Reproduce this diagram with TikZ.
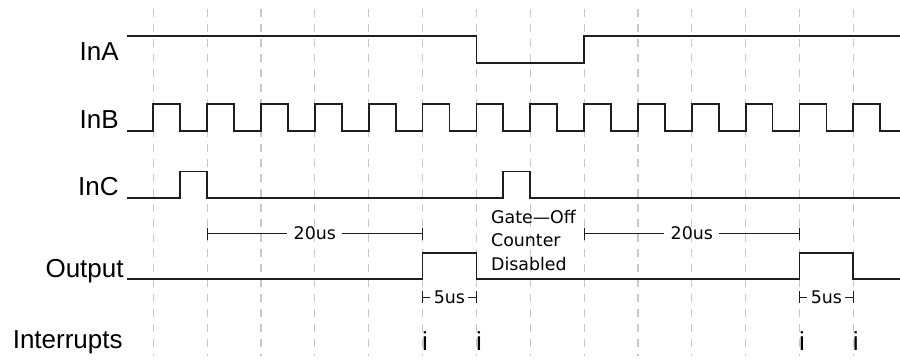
\documentclass[tikz,border=0pt]{standalone}
\usepackage{fontspec}
\setmainfont{Liberation Sans}
\newfontfamily\notefont{DejaVu Sans}
\usetikzlibrary{calc}
\usepackage{xcolor}
\definecolor{sig_black}{RGB}{30,30,30}
\definecolor{grid_gray}{RGB}{200,200,200}
\tikzset{
  signal/.style   = {sig_black, line width=0.9pt, line join=miter},
  gridline/.style = {grid_gray, line width=0.55pt, dash pattern=on 3.75pt off 3.75pt},
  dimline/.style  = {sig_black, line width=0.5pt},
  lbl/.style      = {font=\fontsize{13}{15}\selectfont, inner sep=0pt, anchor=base east},
  note/.style     = {font=\notefont\fontsize{8.7}{11.65}\selectfont, inner ysep=1pt, inner xsep=3pt},
  irq/.style      = {font=\fontsize{13}{15}\selectfont, inner sep=0pt, anchor=base}
}

\begin{document}
\begin{tikzpicture}[x=0.5pt, y=-0.5pt]
    \useasboundingbox (0,0) rectangle (900,360);

    % Time base
    \def\xO{153.3}    % first grid line
    \def\T{53.85}     % clock period
    \def\H{26.925}    % half period

    % ----- Grid -----
    \foreach \i in {0,...,13}{
      \draw[gridline] ({\xO+\i*\T},9) -- ({\xO+\i*\T},356);
    }

    % ----- Signal names -----
    \node[lbl] (nInA) at (119,60)  {InA};
    \node[lbl] (nInB) at (119,128) {InB};
    \node[lbl] (nInC) at (119,195) {InC};
    \node[lbl] (nOut) at (124,277) {Output};
    \node[lbl] (nIrq) at (123,348) {Interrupts};

    % ----- InA -----
    \draw[signal] (127,36) -- (476.4,36) -- (476.4,63) -- (584.1,63)
      -- (584.1,36) -- (900,36);

    % ----- InB (clock) -----
    \draw[signal] (127,130.7) foreach \i in {0,...,13}{
        -- ({\xO+\i*\T},130.7) -- ({\xO+\i*\T},104)
        -- ({\xO+\i*\T+\H},104) -- ({\xO+\i*\T+\H},130.7)
      } -- (900,130.7);

    % ----- InC -----
    \draw[signal] (127,198) -- (180.2,198) -- (180.2,171.5) -- (207.15,171.5)
      -- (207.15,198) -- (503.3,198) -- (503.3,171.5) -- (530.25,171.5)
      -- (530.25,198) -- (900,198);

    % ----- Output -----
    \draw[signal] (127,279.3) -- (422.55,279.3) -- (422.55,252.7) -- (476.4,252.7)
      -- (476.4,279.3) -- (799.5,279.3) -- (799.5,252.7) -- (853.35,252.7)
      -- (853.35,279.3) -- (900,279.3);

    % ----- Delays -----
    \coordinate (dA1) at (207.15,233.5);
    \coordinate (dA2) at (422.55,233.5);
    \coordinate (dB1) at (584.1,233.5);
    \coordinate (dB2) at (799.5,233.5);
    \coordinate (pA1) at (422.55,297);
    \coordinate (pA2) at (476.4,297);
    \coordinate (pB1) at (799.5,297);
    \coordinate (pB2) at (853.35,297);

    \node[note] (tA) at ($(dA1)!0.5!(dA2)$) {20us};
    \node[note] (tB) at ($(dB1)!0.5!(dB2)$) {20us};
    \node[note, inner xsep=1.5pt] (wA) at ($(pA1)!0.5!(pA2)$) {5us};
    \node[note, inner xsep=1.5pt] (wB) at ($(pB1)!0.5!(pB2)$) {5us};

    \draw[dimline] (dA1) -- (tA) (tA) -- (dA2);
    \draw[dimline] (dB1) -- (tB) (tB) -- (dB2);
    \draw[dimline] (pA1) -- (wA) (wA) -- (pA2);
    \draw[dimline] (pB1) -- (wB) (wB) -- (pB2);

    \foreach \c in {dA1,dA2,dB1,dB2,pA1,pA2,pB1,pB2}{
      \draw[dimline] ($(\c)+(0,-6)$) -- ($(\c)+(0,6)$);
    }

    % ----- Gate-off note -----
    \node[note, align=left, anchor=north west, inner sep=0pt] (gate) at (490.7,210)
      {Gate—Off\\Counter\\Disabled};

    % ----- Interrupts -----
    \foreach \x [count=\n] in {422.55,476.4,799.5,853.35}{
      \node[irq] (irq\n) at (\x+2.5,350) {i};
    }
\end{tikzpicture}
\end{document}
